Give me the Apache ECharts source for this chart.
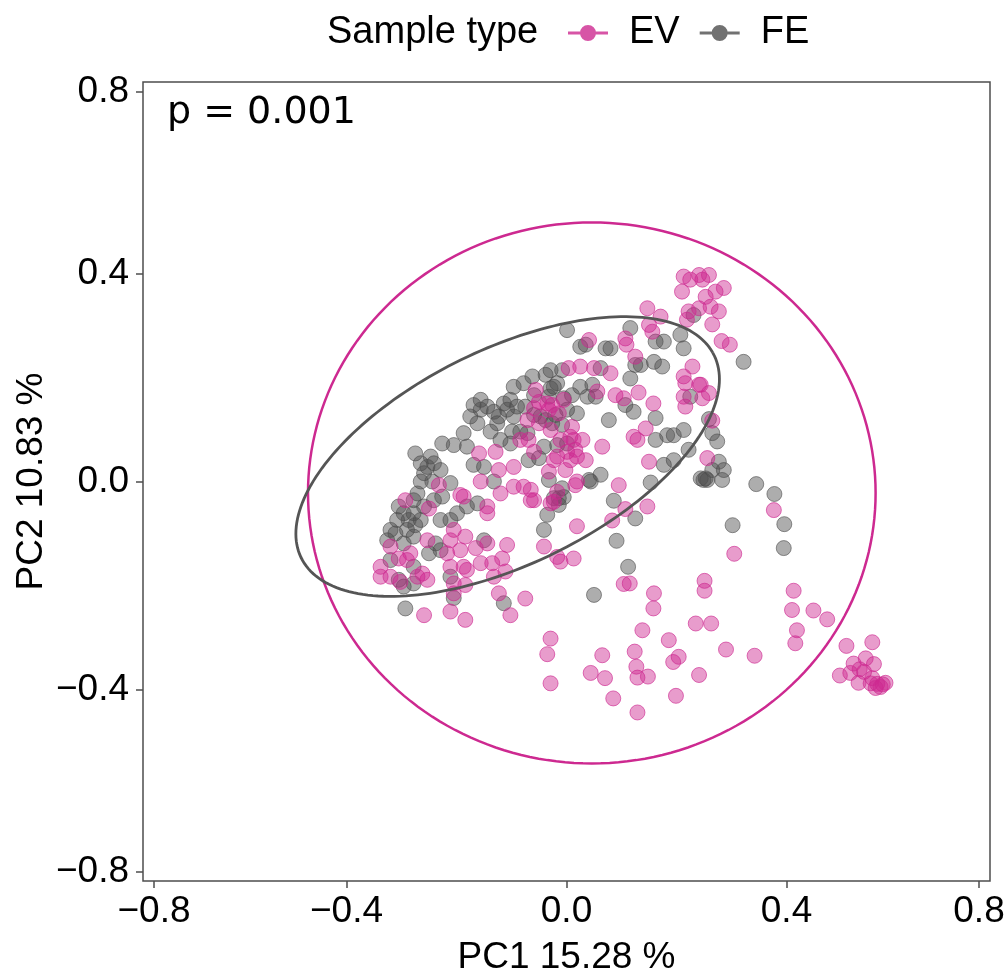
<!DOCTYPE html>
<html>
<head>
<meta charset="utf-8">
<script src="https://cdn.jsdelivr.net/npm/echarts@6/dist/echarts.min.js"></script>
<style>
html,body{margin:0;padding:0;background:#fff;overflow:hidden;}
#chart{width:1008px;height:975px;}
</style>
</head>
<body>
<div id="chart"></div>
<script>
// ---- data ----
const seriesNames = ['EV', 'FE'];
const legendTitle = 'Sample type';
const xName = 'PC1 15.28 %';
const yName = 'PC2 10.83 %';
const pLabel = 'p = 0.001';
const tickValues = [-0.75, -0.4, 0, 0.4, 0.75];
const tickLabels = ['\u22120.8', '\u22120.4', '0.0', '0.4', '0.8'];

const ev = [
[0.016,-0.007],[0.095,-0.007],[0.147,-0.048],[0.107,-0.053],[0.083,-0.075],[0.019,-0.086],[0.377,-0.055],[0.305,-0.139],[0.013,-0.148],[-0.011,-0.154],
[0.104,-0.197],[0.115,-0.196],[0.159,-0.215],[0.158,-0.244],[0.251,-0.191],[0.251,-0.210],[0.413,-0.210],[0.410,-0.247],[0.449,-0.248],[0.474,-0.265],
[0.419,-0.286],[0.416,-0.311],[0.235,-0.273],[0.263,-0.273],[0.138,-0.286],[0.186,-0.305],[0.290,-0.323],[0.342,-0.335],[0.065,-0.334],[0.124,-0.327],
[0.127,-0.356],[0.204,-0.337],[0.194,-0.347],[0.044,-0.368],[0.070,-0.378],[0.129,-0.377],[0.148,-0.375],[0.241,-0.372],[0.085,-0.417],[0.199,-0.412],
[0.129,-0.444],
[0.509,-0.316],[0.556,-0.309],[0.544,-0.340],[0.522,-0.350],[0.559,-0.351],[0.497,-0.373],[0.516,-0.368],[0.533,-0.361],[0.531,-0.387],[0.556,-0.378],
[0.565,-0.389],[0.580,-0.387],[0.571,-0.395],[0.553,-0.388],[0.541,-0.366],[0.562,-0.397],[0.575,-0.390],
[0.259,0.397],[0.247,0.388],[0.286,0.372],[0.271,0.365],[0.253,0.355],[0.262,0.336],[0.277,0.327],[0.265,0.302],[0.282,0.270],[0.297,0.263],
[0.244,0.186],[0.259,0.170],[0.247,0.160],[0.265,0.117],[0.256,0.045],[0.213,0.394],[0.241,0.397],[0.225,0.388],[0.210,0.365],[0.241,0.333],
[0.222,0.327],[0.219,0.311],[0.147,0.333],[0.171,0.317],[0.150,0.301],[0.156,0.288],[0.107,0.275],[0.109,0.263],[0.041,0.272],[0.125,0.240],
[0.004,0.218],[0.025,0.221],[0.050,0.218],[0.080,0.208],[0.229,0.221],[0.213,0.202],[0.216,0.189],[0.241,0.186],[0.213,0.163],[0.216,0.144],
[0.131,0.171],[0.089,0.166],[0.104,0.160],[0.158,0.150],[0.144,0.102],[0.122,0.086],[0.129,0.080],[0.150,0.038],[0.065,0.067],[-0.056,0.176],
[0.056,0.173],[-0.050,0.153],[-0.035,0.150],[-0.026,0.147],[-0.059,0.141],[-0.014,0.131],[-0.071,0.118],[-0.050,0.112],[0.010,0.105],[-0.029,0.099],
[0.007,0.086],[0.013,0.080],[0.029,0.080],[-0.059,0.057],[0.016,0.061],[0.035,0.041],[-0.023,0.041],[0.007,0.041],[-0.032,0.019],[-0.065,-0.036],
[-0.029,-0.042],[-0.005,0.157],[-0.032,0.138],[-0.011,0.080],[0.019,0.048],[0.001,0.057],[-0.017,0.048],[-0.002,0.022],[0.019,0.000],[-0.017,-0.020],
[-0.023,-0.039],[-0.041,-0.125],[-0.017,-0.145],[-0.084,0.080],[-0.069,0.080],[-0.129,0.057],[-0.159,0.054],[-0.096,0.028],[-0.123,0.022],[-0.120,-0.023],
[-0.096,-0.010],[-0.078,-0.010],[-0.059,-0.036],[-0.065,-0.016],[-0.156,0.000],[-0.187,-0.029],[-0.144,-0.048],[-0.144,-0.061],[-0.232,-0.007],[-0.293,-0.036],
[-0.250,-0.052],[-0.193,-0.026],[-0.320,-0.125],[-0.253,-0.113],[-0.217,-0.138],[-0.211,-0.113],[-0.193,-0.132],[-0.184,-0.106],[-0.205,-0.093],[-0.165,-0.128],
[-0.144,-0.119],[-0.135,-0.157],[-0.117,-0.148],[-0.108,-0.122],[-0.187,-0.164],[-0.211,-0.164],[-0.205,-0.196],[-0.184,-0.199],[-0.181,-0.170],[-0.271,-0.183],
[-0.262,-0.177],[-0.290,-0.151],[-0.305,-0.148],[-0.284,-0.138],[-0.338,-0.164],[-0.338,-0.183],[-0.320,-0.183],[-0.253,-0.189],[-0.259,-0.257],[-0.211,-0.250],
[-0.184,-0.266],[-0.156,-0.157],[-0.132,-0.183],[-0.123,-0.215],[-0.102,-0.257],[-0.075,-0.225],[-0.029,-0.302],[-0.035,-0.332],[-0.029,-0.388],[-0.111,-0.173],
[-0.205,-0.215],[-0.302,-0.193]
];

const fe = [
[0.044,0.000],[-0.005,-0.030],[0.153,-0.002],[0.249,0.003],[0.283,0.003],[0.345,-0.005],[0.378,-0.024],[0.396,-0.082],[0.302,-0.084],[0.395,-0.128],
[0.086,-0.037],[0.125,-0.071],[0.091,-0.114],[0.112,-0.164],[0.050,-0.218],[0.322,0.230],[0.259,0.120],[0.265,0.093],[0.274,0.077],[0.277,0.038],
[0.286,0.022],[0.253,0.006],[0.265,0.022],[0.244,0.006],[0.256,0.003],[0.231,0.320],[0.116,0.295],[0.001,0.291],[0.162,0.269],[0.177,0.269],
[0.207,0.282],[0.213,0.256],[0.025,0.259],[0.035,0.263],[0.071,0.256],[0.080,0.256],[0.125,0.224],[0.135,0.224],[0.159,0.230],[0.174,0.221],
[0.116,0.198],[0.062,0.218],[-0.008,0.214],[-0.038,0.205],[-0.062,0.202],[-0.078,0.189],[0.225,0.163],[0.107,0.147],[0.122,0.134],[0.077,0.118],
[0.162,0.122],[0.162,0.080],[0.183,0.089],[0.195,0.089],[0.213,0.099],[0.222,0.061],[0.177,0.032],[0.195,0.041],[-0.023,0.182],[0.025,0.182],
[0.047,0.186],[0.053,0.163],[0.038,0.163],[0.010,0.166],[-0.005,0.160],[-0.032,0.163],[-0.059,0.166],[-0.075,0.144],[-0.047,0.125],[0.019,0.131],
[-0.026,0.112],[-0.008,0.109],[-0.084,0.096],[-0.071,0.093],[0.001,0.073],[-0.041,0.067],[-0.017,0.070],[-0.069,0.041],[-0.050,0.045],[-0.032,0.003],
[0.062,0.013],[0.041,0.003],[-0.008,-0.013],[-0.023,-0.032],[-0.014,-0.032],[-0.017,0.189],[-0.029,0.179],[-0.059,0.128],[-0.038,0.118],[-0.020,0.128],
[0.001,0.138],[-0.035,-0.064],[-0.041,-0.093],[-0.029,0.214],[-0.096,0.182],[-0.144,0.144],[-0.132,0.134],[-0.156,0.138],[-0.175,0.125],[-0.162,0.112],
[-0.123,0.125],[-0.114,0.150],[-0.102,0.157],[-0.090,0.144],[-0.096,0.125],[-0.108,0.138],[-0.126,0.112],[-0.138,0.096],[-0.099,0.096],[-0.102,0.073],
[-0.120,0.080],[-0.150,0.028],[-0.169,0.032],[-0.181,0.067],[-0.187,0.093],[-0.205,0.070],[-0.226,0.073],[-0.132,0.000],[-0.162,-0.042],[-0.181,-0.048],
[-0.199,-0.061],[-0.211,-0.003],[-0.259,0.016],[-0.275,0.054],[-0.247,0.048],[-0.241,0.035],[-0.253,0.028],[-0.265,0.035],[-0.229,0.022],[-0.244,0.000],
[-0.265,0.000],[-0.271,-0.023],[-0.278,-0.036],[-0.259,-0.048],[-0.241,-0.036],[-0.226,-0.029],[-0.296,-0.061],[-0.305,-0.048],[-0.278,-0.061],[-0.229,-0.074],
[-0.211,-0.074],[-0.287,-0.074],[-0.308,-0.074],[-0.320,-0.093],[-0.311,-0.100],[-0.290,-0.093],[-0.275,-0.084],[-0.326,-0.113],[-0.296,-0.119],[-0.278,-0.106],
[-0.265,-0.074],[-0.238,-0.119],[-0.229,-0.132],[-0.278,-0.164],[-0.250,-0.138],[-0.305,-0.189],[-0.296,-0.202],[-0.278,-0.196],[-0.293,-0.244],[-0.211,-0.183],
[-0.114,-0.234],[-0.014,-0.045],[-0.169,0.147],[-0.156,0.157],[-0.150,-0.113],[-0.205,-0.224],[-0.320,-0.151]
];

// ellipse: [centerX, centerY, semiAxisA, semiAxisB, rotationDeg] in data units
const ellipseEV = [0.046, -0.022, 0.516, 0.520, 0];
const ellipseFE = [-0.107, 0.048, 0.423, 0.204, 28.2];

// ---- styles ----
const colEV = '#CD2990';
const colFE = '#4D4D4D';
const FONT = '"Liberation Sans", Arial, Helvetica, sans-serif';

function ellipseRender(color, width) {
  return function (params, api) {
    const cx = api.value(0), cy = api.value(1), a = api.value(2), b = api.value(3);
    const th = api.value(4) * Math.PI / 180;
    const pts = [];
    const n = 200;
    for (let i = 0; i <= n; i++) {
      const t = 2 * Math.PI * i / n;
      const x = cx + a * Math.cos(t) * Math.cos(th) - b * Math.sin(t) * Math.sin(th);
      const y = cy + a * Math.cos(t) * Math.sin(th) + b * Math.sin(t) * Math.cos(th);
      pts.push(api.coord([x, y]));
    }
    return {
      type: 'polyline',
      shape: { points: pts },
      style: { fill: null, stroke: color, lineWidth: width }
    };
  };
}

const iconPath = 'path://M0,8.5 L40,8.5 L40,11.5 L0,11.5 Z M28,10 A8,8 0 1,1 12,10 A8,8 0 1,1 28,10 Z';

const chart = echarts.init(document.getElementById('chart'), null, { renderer: 'canvas' });
const tickFmt = v => {
  const i = tickValues.findIndex(t => Math.abs(t - v) < 1e-9);
  return i >= 0 ? tickLabels[i] : '';
};

const axisCommon = {
  type: 'value',
  axisLine: { show: false, onZero: false },
  splitLine: { show: false },
  axisTick: { show: true, inside: false, length: 7, lineStyle: { color: '#4D4D4D', width: 1.5 }, customValues: tickValues },
  axisLabel: { customValues: tickValues, formatter: tickFmt, color: '#000', fontSize: 37, fontFamily: FONT },
  nameLocation: 'middle',
  nameMoveOverlap: false,
  nameTextStyle: { color: '#000', fontSize: 37, fontFamily: FONT }
};

chart.setOption({
  animation: false,
  backgroundColor: '#fff',
  title: {
    text: legendTitle,
    left: 322, top: 8,
    textStyle: { color: '#000', fontSize: 38, fontWeight: 'normal', fontFamily: FONT, lineHeight: 40 }
  },
  legend: {
    left: 563, top: 8,
    itemWidth: 40, itemHeight: 16, itemGap: 20,
    textStyle: { color: '#000', fontSize: 38, fontFamily: FONT, lineHeight: 40, padding: [0, 0, 0, 16] },
    data: [
      { name: seriesNames[0], icon: iconPath, itemStyle: { color: colEV, opacity: 0.8, borderWidth: 0 } },
      { name: seriesNames[1], icon: iconPath, itemStyle: { color: colFE, opacity: 0.8, borderWidth: 0 } }
    ]
  },
  grid: {
    left: 143, top: 82, width: 847, height: 799,
    outerBoundsMode: 'none', containLabel: false,
    show: true, borderColor: '#4D4D4D', borderWidth: 1.5, backgroundColor: '#fff'
  },
  xAxis: Object.assign({}, axisCommon, {
    position: 'bottom',
    min: -0.77, max: 0.77,
    name: xName, nameGap: 58,
    axisLabel: Object.assign({}, axisCommon.axisLabel, { margin: 12 })
  }),
  yAxis: Object.assign({}, axisCommon, {
    position: 'left',
    min: -0.768, max: 0.768,
    name: yName, nameGap: 93, nameRotate: 90,
    axisLabel: Object.assign({}, axisCommon.axisLabel, { margin: 14 })
  }),
  graphic: [{
    type: 'text', left: 167, top: 94,
    style: { text: pLabel, fill: '#000', fontSize: 38, fontFamily: '"DejaVu Sans", Verdana, sans-serif' }
  }],
  series: [
    {
      name: seriesNames[1], type: 'scatter', data: fe, symbolSize: 15, z: 2,
      itemStyle: { color: 'rgba(77,77,77,0.58)', borderColor: 'rgba(77,77,77,0.75)', borderWidth: 1 }
    },
    {
      name: seriesNames[0], type: 'scatter', data: ev, symbolSize: 15, z: 3,
      itemStyle: { color: 'rgba(205,41,144,0.58)', borderColor: 'rgba(205,41,144,0.8)', borderWidth: 1 }
    },
    {
      type: 'custom', data: [ellipseEV], z: 5, silent: true,
      renderItem: ellipseRender(colEV, 2.5)
    },
    {
      type: 'custom', data: [ellipseFE], z: 5, silent: true,
      renderItem: ellipseRender('#555555', 2.8)
    }
  ]
});
</script>
</body>
</html>
